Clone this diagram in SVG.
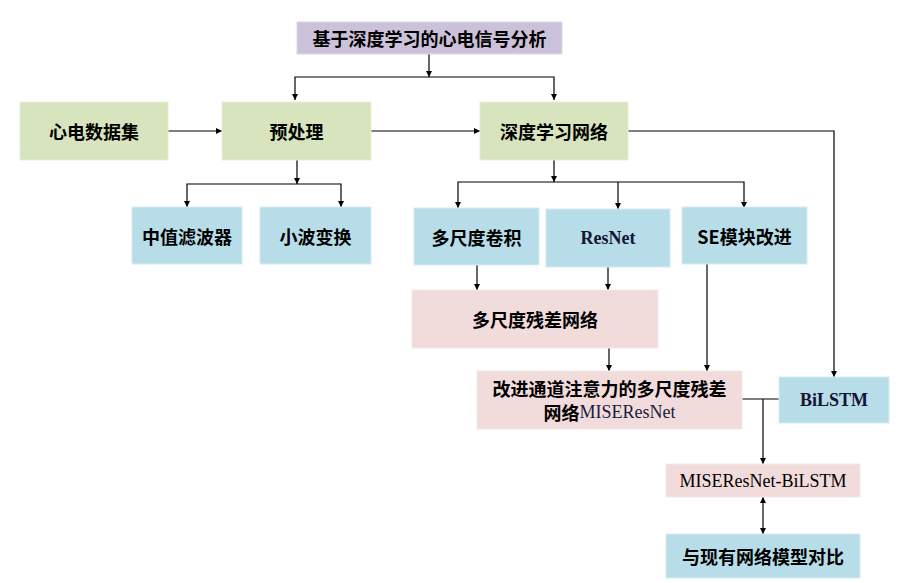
<svg xmlns="http://www.w3.org/2000/svg" width="911" height="583" viewBox="0 0 911 583">
<defs>
<marker id="ah" viewBox="0 0 10 10" refX="10" refY="5" markerWidth="6" markerHeight="6" orient="auto-start-reverse" markerUnits="userSpaceOnUse"><path d="M0,0 L10,5 L0,10 z" fill="#000"/></marker>
</defs>
<style>
.g{fill:#D7E4BD;stroke:#E6EEDA;stroke-width:1}
.b{fill:#B7DDE8;stroke:#D4ECF2;stroke-width:1}
.p{fill:#F2DCDB;stroke:#F6E8E7;stroke-width:1}
.v{fill:#CCC1DA;stroke:#DDD6E8;stroke-width:1}
.t{font-family:"Noto Sans CJK SC","Liberation Sans",sans-serif;font-weight:bold;font-size:18px;fill:#000;text-anchor:middle;dominant-baseline:central}
.s{font-family:"Liberation Serif","Noto Sans CJK SC",serif;font-size:18px;fill:#000;text-anchor:middle;dominant-baseline:central}
.c{fill:none;stroke:#000;stroke-width:1.2}
</style>
<g id="connectors">
<path class="c" d="M429,54 V77" marker-end="url(#ah)"/>
<path class="c" d="M295,100 V77 H554 V100" marker-start="url(#ah)" marker-end="url(#ah)"/>
<path class="c" d="M168,131 H222" marker-end="url(#ah)"/>
<path class="c" d="M371,131 H480" marker-end="url(#ah)"/>
<path class="c" d="M297,160 V184" marker-end="url(#ah)"/>
<path class="c" d="M187,207 V184 H341 V207" marker-start="url(#ah)" marker-end="url(#ah)"/>
<path class="c" d="M554,160 V182" marker-end="url(#ah)"/>
<path class="c" d="M458,208 V182 H744 V208" marker-start="url(#ah)" marker-end="url(#ah)"/>
<path class="c" d="M618,182 V209" marker-end="url(#ah)"/>
<path class="c" d="M628,131 H834 V377" marker-end="url(#ah)"/>
<path class="c" d="M477,265 V290" marker-end="url(#ah)"/>
<path class="c" d="M608,267 V290" marker-end="url(#ah)"/>
<path class="c" d="M609,348 V371" marker-end="url(#ah)"/>
<path class="c" d="M707,264 V371" marker-end="url(#ah)"/>
<path class="c" d="M742,399 H779"/>
<path class="c" d="M763,399 V464" marker-end="url(#ah)"/>
<path class="c" d="M763,497 V534" marker-start="url(#ah)" marker-end="url(#ah)"/>
</g>
<g id="n-top"><rect class="v" x="297" y="22" width="265" height="32"/><text class="t" x="429.5" y="38">基于深度学习的心电信号分析</text></g>
<g id="n-data"><rect class="g" x="20" y="102" width="148" height="58"/><text class="t" x="94" y="131">心电数据集</text></g>
<g id="n-pre"><rect class="g" x="222" y="102" width="149" height="58"/><text class="t" x="296.5" y="131">预处理</text></g>
<g id="n-dl"><rect class="g" x="480" y="102" width="148" height="58"/><text class="t" x="554" y="131">深度学习网络</text></g>
<g id="n-median"><rect class="b" x="132" y="207" width="110" height="57"/><text class="t" x="187" y="236">中值滤波器</text></g>
<g id="n-wavelet"><rect class="b" x="260" y="207" width="111" height="57"/><text class="t" x="315.5" y="236">小波变换</text></g>
<g id="n-msconv"><rect class="b" x="414" y="208" width="125" height="57"/><text class="t" x="476.5" y="237">多尺度卷积</text></g>
<g id="n-resnet"><rect class="b" x="546" y="209" width="124" height="58"/><text class="s" x="608" y="238" style="font-weight:bold;fill:#141433">ResNet</text></g>
<g id="n-se"><rect class="b" x="682" y="207" width="125" height="57"/><text class="t" x="744.5" y="236">SE模块改进</text></g>
<g id="n-msres"><rect class="p" x="412" y="290" width="246" height="58"/><text class="t" x="535" y="319">多尺度残差网络</text></g>
<g id="n-mise"><rect class="p" x="477" y="371" width="265" height="58"/><text class="t" x="609.5" y="388">改进通道注意力的多尺度残差</text><text class="t" x="609.5" y="412">网络<tspan style="font-family:'Liberation Serif',serif;font-weight:normal;fill:#1a1a40">MISEResNet</tspan></text></g>
<g id="n-bilstm"><rect class="b" x="779" y="377" width="110" height="46"/><text class="s" x="834" y="400" style="font-weight:bold;fill:#141433">BiLSTM</text></g>
<g id="n-combo"><rect class="p" x="666" y="464" width="194" height="33"/><text class="s" x="763" y="481">MISEResNet-BiLSTM</text></g>
<g id="n-compare"><rect class="b" x="666" y="534" width="194" height="44"/><text class="t" x="763" y="556">与现有网络模型对比</text></g>
</svg>
